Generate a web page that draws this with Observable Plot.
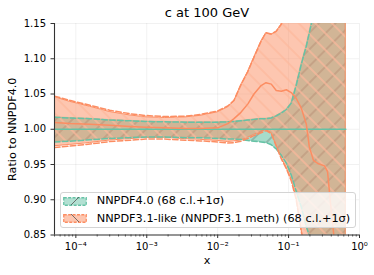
<!DOCTYPE html>
<html><head><meta charset="utf-8">
<script src="https://cdn.jsdelivr.net/npm/d3@7"></script>
<script src="https://cdn.jsdelivr.net/npm/@observablehq/plot@0.6"></script>
<style>
html,body{margin:0;padding:0;background:#fff;}
#wrap{position:relative;width:374px;height:275px;font-family:"DejaVu Sans",sans-serif;}
#legend{position:absolute;left:60px;top:191.7px;width:294px;height:34.3px;border:1px solid #d4d4d4;border-radius:3px;background:rgba(255,255,255,0.8);font-size:11.3px;color:#000;}
#legend .txt{position:absolute;left:35.7px;line-height:13px;white-space:nowrap;}
#legend svg{position:absolute;left:2.3px;}
</style></head>
<body>
<div id="wrap"></div>
<script>
// ---- data ----
const title = "c at 100 GeV";
const yLabel = "Ratio to NNPDF4.0";
const xLabel = "x";
const seriesNames = ["NNPDF4.0 (68 c.l.+1σ)", "NNPDF3.1-like (NNPDF3.1 meth) (68 c.l.+1σ)"];
const xTicks = [1e-4, 1e-3, 1e-2, 1e-1, 1];
const xTickLabels = ["10⁻⁴", "10⁻³", "10⁻²", "10⁻¹", "10⁰"];
const yTicks = [0.85, 0.90, 0.95, 1.00, 1.05, 1.10, 1.15];

const xGrid = [5.0e-5, 8.2e-5, 1.58e-4, 3.0e-4, 5.8e-4, 9.6e-4, 1.8e-3, 3.5e-3, 5.7e-3, 0.0100, 0.0139, 0.0170, 0.0213, 0.0267, 0.0325, 0.0410, 0.0480, 0.0570, 0.0670, 0.0790, 0.0930, 0.109, 0.128, 0.151, 0.178, 0.210, 0.247, 0.290, 0.342, 0.403, 0.474, 0.560, 0.640];

// NNPDF4.0 band (68 c.l. / 1σ edges)
const g40Up = [1.017, 1.016, 1.015, 1.013, 1.012, 1.011, 1.0105, 1.010, 1.010, 1.010, 1.0105, 1.011, 1.012, 1.013, 1.014, 1.015, 1.015, 1.016, 1.019, 1.023, 1.028, 1.037, 1.062, 1.092, 1.118, 1.150, 1.180, 1.21, 1.24, 1.27, 1.30, 1.33, 1.35];
const g40Lo = [0.982, 0.983, 0.985, 0.987, 0.988, 0.989, 0.989, 0.988, 0.988, 0.987, 0.986, 0.986, 0.9855, 0.984, 0.983, 0.982, 0.981, 0.978, 0.972, 0.963, 0.952, 0.935, 0.912, 0.890, 0.862, 0.840, 0.82, 0.80, 0.78, 0.76, 0.74, 0.72, 0.70];
const g40MidX = [5.0e-5, 0.640];
const g40Mid = [1.0, 1.0];

// NNPDF3.1-like band: 68 c.l. (filled) and 1σ (dashed)
const o31Up = [1.0455, 1.039, 1.032, 1.0245, 1.0196, 1.0170, 1.016, 1.0168, 1.019, 1.024, 1.031, 1.039, 1.062, 1.081, 1.101, 1.124, 1.136, 1.134, 1.138, 1.148, 1.17, 1.20, 1.23, 1.26, 1.28, 1.30, 1.32, 1.34, 1.36, 1.38, 1.40, 1.42, 1.44];
const o31Lo = [0.976, 0.9777, 0.9805, 0.984, 0.986, 0.9877, 0.9877, 0.986, 0.985, 0.9834, 0.982, 0.9827, 0.984, 0.988, 0.992, 0.996, 0.999, 0.995, 0.978, 0.960, 0.946, 0.930, 0.905, 0.860, 0.820, 0.80, 0.78, 0.76, 0.74, 0.72, 0.70, 0.68, 0.66];
const o31Up1s = [1.047, 1.041, 1.034, 1.027, 1.022, 1.0195, 1.018, 1.0185, 1.021, 1.026, 1.033, 1.041, 1.063, 1.082, 1.102, 1.125, 1.137, 1.135, 1.139, 1.149, 1.17, 1.20, 1.23, 1.26, 1.28, 1.30, 1.32, 1.34, 1.36, 1.38, 1.40, 1.42, 1.44];
const o31Lo1s = [0.974, 0.976, 0.979, 0.9825, 0.9845, 0.986, 0.986, 0.9845, 0.9835, 0.982, 0.9805, 0.981, 0.983, 0.987, 0.991, 0.995, 0.998, 0.994, 0.976, 0.958, 0.944, 0.927, 0.900, 0.855, 0.815, 0.79, 0.77, 0.75, 0.73, 0.71, 0.69, 0.67, 0.65];
const x31Mid = [5.0e-5, 8.2e-5, 1.58e-4, 3.0e-4, 5.8e-4, 9.6e-4, 1.8e-3, 3.5e-3, 5.7e-3, 0.0100, 0.0139, 0.0170, 0.0213, 0.0267, 0.0325, 0.0410, 0.0480, 0.0570, 0.0670, 0.0790, 0.0930, 0.109, 0.128, 0.151, 0.178, 0.196, 0.224, 0.264, 0.321, 0.354, 0.378, 0.403, 0.445, 0.640];
const y31Mid = [1.0094, 1.008, 1.007, 1.0055, 1.004, 1.003, 1.002, 1.001, 1.001, 1.002, 1.008, 1.015, 1.024, 1.036, 1.050, 1.062, 1.066, 1.064, 1.055, 1.054, 1.056, 1.052, 1.044, 1.030, 1.007, 0.975, 0.956, 0.951, 0.948, 0.940, 0.910, 0.880, 0.840, 0.750];

// ---- build tables ----
const GREEN = "#66c2a5", ORANGE = "#fc8d62";
const band = xGrid.map((x, i) => ({x, gUp: g40Up[i], gLo: g40Lo[i], oUp: o31Up[i], oLo: o31Lo[i], oUp1: o31Up1s[i], oLo1: o31Lo1s[i]}));
const mid31 = x31Mid.map((x, i) => ({x, y: y31Mid[i]}));
const mid40 = g40MidX.map((x, i) => ({x, y: g40Mid[i]}));
const xMinor = [];
for (let e = -5; e < 0; e++) for (let m = 2; m <= 9; m++) { const v = m * Math.pow(10, e); if (v >= 5e-5 && v <= 1) xMinor.push(v); }
const labelOf = new Map(xTicks.map((t, i) => [t, xTickLabels[i]]));
const dash = "5.5,2.4";

const chart = Plot.plot({
  width: 374, height: 275,
  marginLeft: 54, marginRight: 15, marginTop: 23, marginBottom: 40.5,
  style: {fontFamily: "DejaVu Sans, sans-serif", background: "#fff", color: "#000", overflow: "visible"},
  x: {type: "log", domain: [5e-5, 1], label: null},
  y: {domain: [0.85, 1.15], label: null},
  marks: [
    Plot.gridX({ticks: xTicks, stroke: "#000", strokeOpacity: 0.07, strokeWidth: 0.8}),
    Plot.gridY({ticks: yTicks, stroke: "#000", strokeOpacity: 0.07, strokeWidth: 0.8}),
    Plot.areaY(band, {x: "x", y1: "gLo", y2: "gUp", fill: GREEN, fillOpacity: 0.58, stroke: GREEN, strokeOpacity: 0.6, strokeWidth: 0.8, clip: true}),
    Plot.areaY(band, {x: "x", y1: "gLo", y2: "gUp", fill: "url(#hatchG)", clip: true}),
    Plot.areaY(band, {x: "x", y1: "oLo", y2: "oUp", fill: ORANGE, fillOpacity: 0.5, stroke: ORANGE, strokeWidth: 1, clip: true}),
    Plot.areaY(band, {x: "x", y1: "oLo", y2: "oUp", fill: "url(#hatchO)", clip: true}),
    Plot.lineY(band, {x: "x", y: "gUp", stroke: GREEN, strokeWidth: 1.5, strokeDasharray: dash, clip: true}),
    Plot.lineY(band, {x: "x", y: "gLo", stroke: GREEN, strokeWidth: 1.5, strokeDasharray: dash, clip: true}),
    Plot.lineY(mid40, {x: "x", y: "y", stroke: GREEN, strokeWidth: 1.6, clip: true}),
    Plot.lineY(band, {x: "x", y: "oUp1", stroke: ORANGE, strokeWidth: 1.5, strokeDasharray: dash, clip: true}),
    Plot.lineY(band, {x: "x", y: "oLo1", stroke: ORANGE, strokeWidth: 1.5, strokeDasharray: dash, clip: true}),
    Plot.lineY(mid31, {x: "x", y: "y", stroke: ORANGE, strokeWidth: 1.5, clip: true}),
    Plot.ruleX([5e-5], {stroke: "#333", strokeWidth: 1.1}),
    Plot.ruleY([0.85], {stroke: "#333", strokeWidth: 1.1}),
    Plot.axisY({ticks: yTicks, tickFormat: d => d.toFixed(2), tickSize: 3.5, tickPadding: 5, fontSize: 10, stroke: "#333", label: null}),
    Plot.axisX({ticks: xTicks, tickFormat: d => labelOf.get(d), tickSize: 3.5, tickPadding: 4, fontSize: 10, stroke: "#333", label: null}),
    Plot.axisX({ticks: xMinor, tickFormat: () => "", tickSize: 2, stroke: "#333", strokeWidth: 0.8, label: null}),
    Plot.text([title], {text: d => d, frameAnchor: "top", dy: -10.5, fontSize: 13, textAnchor: "middle", lineAnchor: "middle"}),
    Plot.text([yLabel], {text: d => d, frameAnchor: "left", dx: -42, rotate: -90, fontSize: 11.2, textAnchor: "middle", lineAnchor: "middle"}),
    Plot.text([xLabel], {text: d => d, frameAnchor: "bottom", dy: 25.5, fontSize: 11.2, textAnchor: "middle", lineAnchor: "middle"})
  ]
});

// hatch patterns
const defs = d3.select(chart).insert("defs", ":first-child");
const pg = defs.append("pattern").attr("id", "hatchG").attr("patternUnits", "userSpaceOnUse")
  .attr("width", 11.8).attr("height", 11.8).attr("patternTransform", "rotate(45)");
pg.append("line").attr("x1", 5.9).attr("x2", 5.9).attr("y1", -1).attr("y2", 13).attr("stroke", "#3a3a3a").attr("stroke-opacity", 0.5).attr("stroke-width", 0.9);
const po = defs.append("pattern").attr("id", "hatchO").attr("patternUnits", "userSpaceOnUse")
  .attr("width", 11.8).attr("height", 11.8).attr("patternTransform", "rotate(-45)");
po.append("line").attr("x1", 5.9).attr("x2", 5.9).attr("y1", -1).attr("y2", 13).attr("stroke", ORANGE).attr("stroke-opacity", 0.7).attr("stroke-width", 1.5);
po.append("line").attr("x1", 5.9).attr("x2", 5.9).attr("y1", -1).attr("y2", 13).attr("stroke", "#fff4ee").attr("stroke-opacity", 0.9).attr("stroke-width", 0.6);

const wrap = document.getElementById("wrap");
wrap.appendChild(chart);

// legend (inside the axes, lower left)
const leg = document.createElement("div");
leg.id = "legend";
const handles = [
  {fill: GREEN, diag: "M8,8 L16,0"},
  {fill: ORANGE, diag: "M8,0 L16,8"}
];
const rowTops = [{patch: 4.2, text: 1.2}, {patch: 21.5, text: 19.0}];
seriesNames.forEach((name, i) => {
  const h = handles[i];
  const s = `<svg width="24" height="9" style="top:${rowTops[i].patch}px">
    <rect x="0.75" y="0.75" width="22.5" height="7.5" fill="${h.fill}" fill-opacity="0.5" stroke="${h.fill}" stroke-width="1.3" stroke-dasharray="3,1.4"/>
    <path d="${h.diag}" stroke="#555" stroke-opacity="0.8" stroke-width="1"/>
  </svg>`;
  leg.insertAdjacentHTML("beforeend", s);
  const t = document.createElement("div");
  t.className = "txt";
  t.style.top = rowTops[i].text + "px";
  t.textContent = name;
  leg.appendChild(t);
});
wrap.appendChild(leg);
</script>
</body></html>
